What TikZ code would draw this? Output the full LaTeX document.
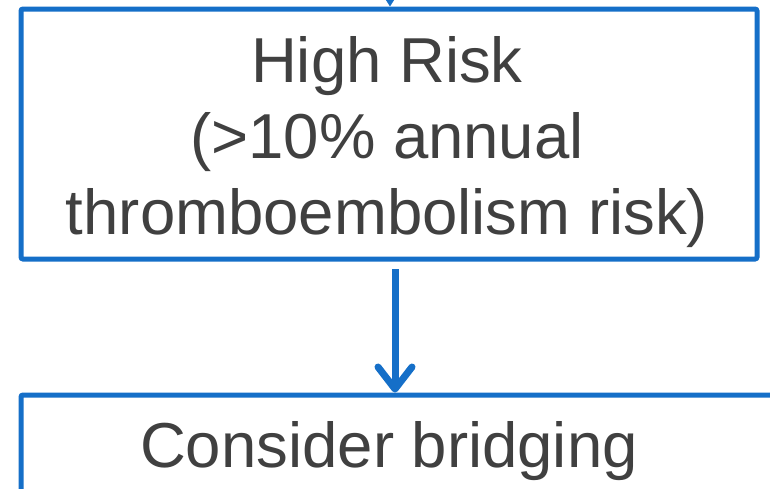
\documentclass[tikz,border=0pt]{standalone}
\usepackage{fontspec}
\setmainfont{Liberation Sans}
\usetikzlibrary{arrows.meta}
\definecolor{flowblue}{RGB}{21,111,200}
\definecolor{flowtext}{RGB}{64,64,64}
\tikzset{
  flowbox/.style={draw=flowblue, line width=5pt, rounded corners=2pt, inner sep=0pt, fill=none},
  flowlabel/.style={text=flowtext, font=\fontsize{63.5}{76}\selectfont, align=center, inner sep=0pt},
  flowarrow/.style={draw=flowblue, line width=7pt, -{Straight Barb[length=22pt,width=34pt,round]}},
  inarrow/.style={draw=flowblue, line width=1.5pt, -{Triangle[length=9pt,width=11pt]}}
}
\begin{document}
\begin{tikzpicture}[x=1pt,y=-1pt]
\useasboundingbox (0,0) rectangle (770,488);
\node[flowbox, minimum width=736pt, minimum height=250pt] (high) at (389,134) {};
\node[flowlabel, anchor=north] (hightext) at (387,36) {High Risk\\(>10\% annual\\thromboembolism risk)};
\node[flowbox, minimum width=758pt, minimum height=140pt] (bridge) at (400,465) {};
\node[flowlabel, anchor=base] (bridgetext) at (389,467) {Consider bridging};
\coordinate (topin) at (390,-30);
\draw[inarrow] (topin) -- (topin |- high.north);
\coordinate (shaftstart) at (395,269);
\draw[flowarrow] (shaftstart) -- (shaftstart |- bridge.north);
\end{tikzpicture}
\end{document}
